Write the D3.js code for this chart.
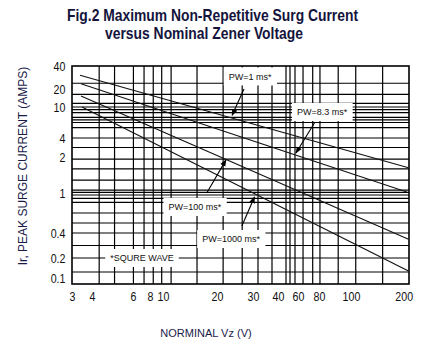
<!DOCTYPE html>
<html>
<head>
<meta charset="utf-8">
<script src="https://cdn.jsdelivr.net/npm/d3@7"></script>
<style>
  body { margin: 0; background: #fff; }
  svg { display: block; }
  .tick text { font-family: "Liberation Sans", Arial, sans-serif; font-size: 13px; fill: #111; }
</style>
</head>
<body>
<div id="chart"></div>
<script>
// curve data (Vz in volts, Ir in amps)
var pwLabels = ["PW=1 ms*", "PW=8.3 ms*", "PW=100 ms*", "PW=1000 ms*"];
var vzStart = [3.4, 3.45, 3.45, 3.5];
var vzEnd = [209, 206, 209, 209];
var irStart = [32, 24.5, 16.1, 10];
var irEnd = [1.7, 1.03, 0.35, 0.135];

// tick labels
var xTicks = [3, 4, 6, 8, 10, 20, 30, 40, 60, 80, 100, 200];
var yTicks = [0.1, 0.2, 0.4, 1, 2, 4, 10, 20, 40];

// grid lines (the sheet's grid is hand drawn, not a clean log grid)
var xGrid = [4.35, 5.1, 6.05, 7.3, 8.5, 9.8, 11.5, 16.3, 21.7, 27, 32, 37.6, 48, 52, 57, 64.8, 74, 80.6, 92, 109, 160];
var yGrid = [25, 17, 12, 10, 9.5, 8.9, 8, 7.5, 7, 6, 4, 3, 1.94, 1.67, 1.36, 1.08, 1.02, 0.97, 0.92, 0.86, 0.7, 0.55, 0.4, 0.3, 0.2, 0.13];

// annotations: label position, arrow start, arrow tip
var noteX = [29.2, 81.9, 15.9, 23.9];
var noteY = [30.9, 9.03, 0.79, 0.352];
var arrowFromX = [27.5, 76.2, 18.1, 26.9];
var arrowFromY = [20, 7.1, 1.0, 0.505];
var arrowToX = [24.2, 58, 22.5, 30.6];
var arrowToY = [8.4, 2.42, 1.92, 0.94];
var waveNote = "*SQURE WAVE";
var waveX = 7.06, waveY = 0.2;

var xMin = 3, xMax = 210, yMin = 0.07, yMax = 40;

var svgWidth = 446;
var svgHeight = 347;

var svg = d3.select("#chart")
    .append("svg")
    .attr("width", svgWidth)
    .attr("height", svgHeight);

// piecewise scales so the odd spacing of the printed axis is kept
var x = d3.scaleLinear()
    .domain([3, 4, 6, 8, 10, 20, 30, 40, 60, 80, 100, 210])
    .range([72, 92, 133, 150, 163, 217, 253, 278, 298, 319, 351, 409]);

var y = d3.scaleLinear()
    .domain([0.07, 0.1, 0.2, 0.4, 1, 2, 4, 10, 20, 40])
    .range([284, 278, 258, 233, 193, 157, 138, 107, 89, 66]);

var plotLeft = x(xMin), plotRight = x(xMax), plotTop = y(yMax), plotBottom = y(yMin);

// grid
var grid = svg.append("g").attr("stroke", "#000").attr("stroke-width", 1.2);
grid.selectAll("line.v")
    .data(xGrid)
    .enter()
    .append("line")
    .attr("class", "v")
    .attr("x1", d => x(d)).attr("x2", d => x(d))
    .attr("y1", plotTop).attr("y2", plotBottom);
grid.selectAll("line.h")
    .data(yGrid)
    .enter()
    .append("line")
    .attr("class", "h")
    .attr("x1", plotLeft).attr("x2", plotRight)
    .attr("y1", d => y(d)).attr("y2", d => y(d));

// note boxes (white, they hide the grid)
var noteFont = "Liberation Sans, Arial, sans-serif";
var notes = svg.append("g");
function addNote(text, cx, cy) {
    var box = notes.append("rect").attr("fill", "#fff");
    var t = notes.append("text")
        .attr("x", cx).attr("y", cy)
        .attr("text-anchor", "middle")
        .attr("dy", "0.35em")
        .style("font-family", noteFont)
        .style("font-size", "9px")
        .attr("fill", "#111")
        .text(text);
    var bb = t.node().getBBox();
    box.attr("x", bb.x - 5).attr("y", cy - 9)
        .attr("width", bb.width + 10).attr("height", 18);
}

pwLabels.forEach(function(d, i) {
    addNote(d, x(noteX[i]), y(noteY[i]));
});
addNote(waveNote, x(waveX), y(waveY));

svg.append("rect")
    .attr("x", plotLeft).attr("y", plotTop)
    .attr("width", plotRight - plotLeft).attr("height", plotBottom - plotTop)
    .attr("fill", "none")
    .attr("stroke", "#000")
    .attr("stroke-width", 1.6);

// curves
svg.append("g")
    .selectAll("line")
    .data(pwLabels)
    .enter()
    .append("line")
    .attr("x1", (d, i) => x(vzStart[i]))
    .attr("y1", (d, i) => y(irStart[i]))
    .attr("x2", (d, i) => x(vzEnd[i]))
    .attr("y2", (d, i) => y(irEnd[i]))
    .attr("stroke", "#111")
    .attr("stroke-width", 1.1);

// arrows
svg.append("defs").append("marker")
    .attr("id", "head")
    .attr("viewBox", "0 0 10 10")
    .attr("refX", 9).attr("refY", 5)
    .attr("markerWidth", 7).attr("markerHeight", 7)
    .attr("orient", "auto")
    .attr("markerUnits", "userSpaceOnUse")
    .append("path")
    .attr("d", "M0,1 L10,5 L0,9 Z")
    .attr("fill", "#000");

svg.append("g")
    .selectAll("line")
    .data(pwLabels)
    .enter()
    .append("line")
    .attr("x1", (d, i) => x(arrowFromX[i]))
    .attr("y1", (d, i) => y(arrowFromY[i]))
    .attr("x2", (d, i) => x(arrowToX[i]))
    .attr("y2", (d, i) => y(arrowToY[i]))
    .attr("stroke", "#000")
    .attr("stroke-width", 1.1)
    .attr("marker-end", "url(#head)");

// axes (labels only); no narrow font installed, so squeeze the glyphs
var xAxis = svg.append("g")
    .attr("transform", `translate(0, ${plotBottom})`)
    .call(d3.axisBottom(x).tickValues(xTicks).tickSize(0).tickPadding(8).tickFormat(d3.format("d")));
var yAxis = svg.append("g")
    .attr("transform", `translate(${plotLeft}, 0)`)
    .call(d3.axisLeft(y).tickValues(yTicks).tickSize(0).tickPadding(8).tickFormat(d => String(d)));
xAxis.select(".domain").remove();
yAxis.select(".domain").remove();
xAxis.selectAll(".tick text").attr("transform", "scale(0.82,1)");
yAxis.selectAll(".tick text").attr("dy", "0.35em").attr("transform", "scale(0.82,1)");

// titles
var titleFont = "Liberation Sans, Arial, sans-serif";
svg.append("text")
    .attr("x", 212.5).attr("y", 21)
    .attr("text-anchor", "middle")
    .attr("textLength", 291)
    .attr("lengthAdjust", "spacingAndGlyphs")
    .style("font-family", titleFont)
    .style("font-size", "17px")
    .style("font-weight", "bold")
    .attr("fill", "#14143c")
    .text("Fig.2 Maximum Non-Repetitive Surg Current");
svg.append("text")
    .attr("x", 204).attr("y", 39)
    .attr("text-anchor", "middle")
    .attr("textLength", 198)
    .attr("lengthAdjust", "spacingAndGlyphs")
    .style("font-family", titleFont)
    .style("font-size", "17px")
    .style("font-weight", "bold")
    .attr("fill", "#14143c")
    .text("versus Nominal Zener Voltage");

svg.append("text")
    .attr("x", 206).attr("y", 337)
    .attr("text-anchor", "middle")
    .style("font-family", noteFont)
    .style("font-size", "11px")
    .attr("fill", "#1a1a4a")
    .text("NORMINAL Vz (V)");

svg.append("text")
    .attr("transform", "translate(27, 166) rotate(-90)")
    .attr("text-anchor", "middle")
    .style("font-family", noteFont)
    .style("font-size", "12px")
    .attr("fill", "#1a1a4a")
    .text("Ir, PEAK SURGE CURRENT (AMPS)");
</script>
</body>
</html>
